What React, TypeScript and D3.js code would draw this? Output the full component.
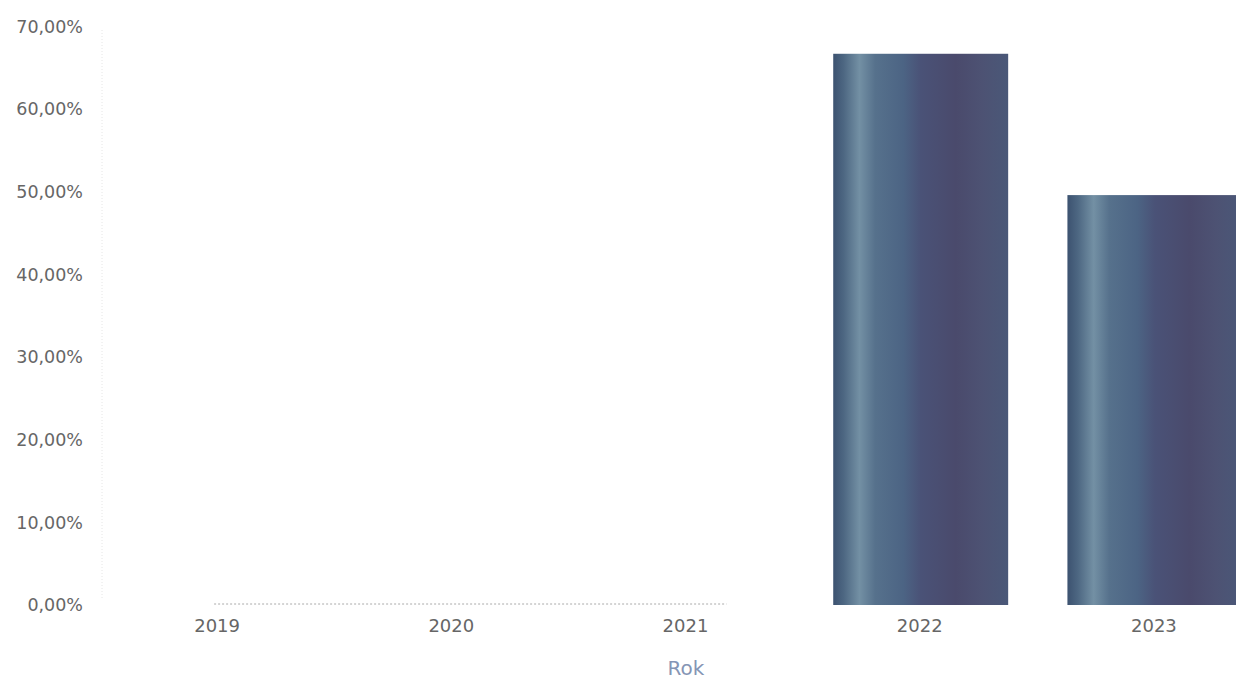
import React from "react";
import * as d3 from "d3";

const categories = ["2019", "2020", "2021", "2022", "2023"];
const values = [0, 0, 0, 66.7, 49.6];
const yTicks = [0, 10, 20, 30, 40, 50, 60, 70];
const xTitle = "Rok";

const W = 1236;
const H = 679;

export default function App() {
  const x = d3.scaleBand<string>().domain(categories).range([101, 1272]).paddingInner(0.253).paddingOuter(0.1265);
  const y = d3.scaleLinear().domain([0, 70]).range([605, 26.5]);
  const fmt = (v: number) => v.toFixed(2).replace(".", ",") + "%";
  const zeroStart = x("2019")! + x.bandwidth() / 2 - 4;
  const zeroEnd = x("2021")! + x.bandwidth() / 2 + 40;
  return (
    <svg width={W} height={H} style={{ position: "absolute", left: 0, top: 0, background: "#fff" }} fontFamily="'DejaVu Sans', sans-serif">
      <defs>
        <linearGradient id="barGrad" x1="0" x2="1" y1="0" y2="0">
          <stop offset="0" stopColor="#3c5270" />
          <stop offset="0.06" stopColor="#4d6782" />
          <stop offset="0.15" stopColor="#7390a4" />
          <stop offset="0.24" stopColor="#56718c" />
          <stop offset="0.4" stopColor="#4c6484" />
          <stop offset="0.5" stopColor="#4a5277" />
          <stop offset="0.7" stopColor="#4a4a6c" />
          <stop offset="0.85" stopColor="#4d5273" />
          <stop offset="1" stopColor="#4a5878" />
        </linearGradient>
      </defs>
      <line x1={102} x2={102} y1={30} y2={600} stroke="#e6e6e6" strokeDasharray="1 2" />
      {yTicks.map((t) => (
        <text key={t} x={83} y={y(t)} dy="0.36em" textAnchor="end" fontSize={17.5} fill="#666">
          {fmt(t)}
        </text>
      ))}
      <line x1={zeroStart} x2={zeroEnd} y1={604} y2={604} stroke="#aaa" strokeDasharray="2 2" strokeWidth={1} />
      {categories.map((c, i) =>
        values[i] > 0 ? (
          <rect key={c} x={x(c)!} y={y(values[i])} width={x.bandwidth()} height={y(0) - y(values[i])} fill="url(#barGrad)" />
        ) : null
      )}
      {categories.map((c) => (
        <text key={c} x={x(c)! + x.bandwidth() / 2 - 1} y={632} textAnchor="middle" fontSize={18} fill="#666">
          {c}
        </text>
      ))}
      <text x={686} y={675} textAnchor="middle" fontSize={20} fill="#8595b5">
        {xTitle}
      </text>
    </svg>
  );
}
